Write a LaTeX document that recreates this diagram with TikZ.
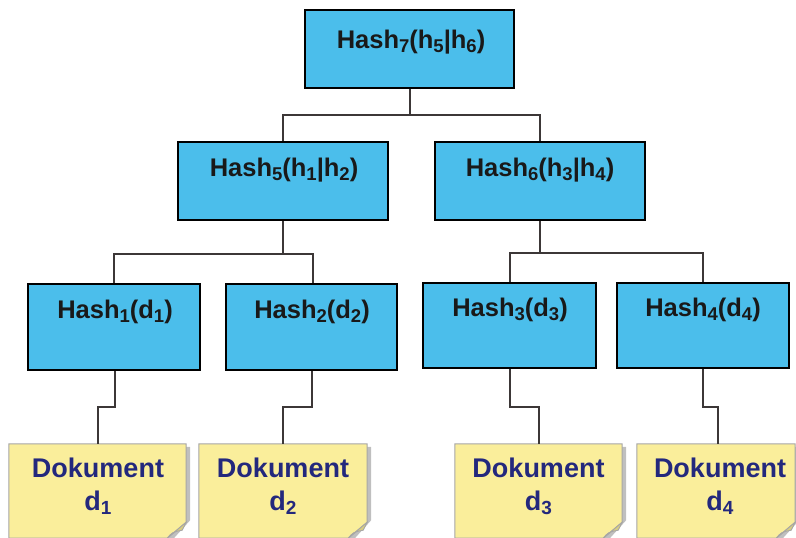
\documentclass[tikz,border=0pt]{standalone}
\usepackage{fontspec}
\setmainfont{Liberation Sans}
\usetikzlibrary{calc}
\definecolor{boxblue}{RGB}{75,190,235}
\definecolor{docyellow}{RGB}{250,238,155}
\definecolor{docfold}{RGB}{215,205,130}
\definecolor{navytext}{RGB}{35,40,125}
\definecolor{linegray}{RGB}{60,55,55}
\newcommand{\subsc}[1]{\raisebox{-0.3ex}{\fontsize{18.5}{18.5}\selectfont #1}}
\newcommand{\subsd}[1]{\raisebox{-0.3ex}{\fontsize{19}{19}\selectfont #1}}
\tikzset{
  hashbox/.style={draw=black, line width=2.6pt, fill=boxblue, inner sep=0pt},
  hashtext/.style={font=\fontsize{25.5}{26}\selectfont\bfseries, text=black!90, inner sep=0pt},
  docbox/.style={inner sep=0pt},
  doctext/.style={font=\fontsize{27}{33}\selectfont\bfseries, text=navytext, align=center, inner sep=0pt},
  conn/.style={draw=linegray, line width=2pt},
}
\begin{document}
\begin{tikzpicture}[x=1pt,y=-1pt]
\useasboundingbox (0,0) rectangle (796,538);
% hash boxes
\node[hashbox, minimum width=209pt, minimum height=78pt] (h7) at (409.5,49) {};
\node[hashbox, minimum width=210pt, minimum height=78pt] (h5) at (283,181) {};
\node[hashbox, minimum width=210pt, minimum height=78pt] (h6) at (540,181) {};
\node[hashbox, minimum width=172pt, minimum height=86pt] (h1) at (114,327) {};
\node[hashbox, minimum width=171pt, minimum height=86pt] (h2) at (311.5,327) {};
\node[hashbox, minimum width=173pt, minimum height=85pt] (h3) at (509.5,325.5) {};
\node[hashbox, minimum width=172pt, minimum height=85pt] (h4) at (703,325.5) {};
% hash texts
\node[hashtext] (t7) at (411,42) {Hash\subsc{7}(h\subsc{5}|h\subsc{6})};
\node[hashtext] (t5) at (284,170) {Hash\subsc{5}(h\subsc{1}|h\subsc{2})};
\node[hashtext] (t6) at (540,170) {Hash\subsc{6}(h\subsc{3}|h\subsc{4})};
\node[hashtext] (t1) at (115,312) {Hash\subsc{1}(d\subsc{1})};
\node[hashtext] (t2) at (312,312) {Hash\subsc{2}(d\subsc{2})};
\node[hashtext] (t3) at (510,310) {Hash\subsc{3}(d\subsc{3})};
\node[hashtext] (t4) at (703,310) {Hash\subsc{4}(d\subsc{4})};
% documents
\foreach \n/\l/\r in {d1/9/186, d2/199/367, d3/455/622, d4/637/795} {
  \node[docbox, minimum width=\r-\l, minimum height=94pt] (\n) at ({(\l+\r)/2},491) {};
  \fill[gray!50] ($(\n.north west)+(4,3)$) -- ($(\n.north east)+(4,3)$) -- ($(\n.south east)+(4,-18)$) -- ($(\n.south east)+(-15,3)$) -- ($(\n.south west)+(4,3)$) -- cycle;
  \filldraw[fill=docyellow, draw=gray!70, line width=1pt] (\n.north west) -- (\n.north east) -- ($(\n.south east)+(0,-16)$) -- ($(\n.south east)+(-19,0)$) -- (\n.south west) -- cycle;
  \filldraw[fill=docfold, draw=gray!70, line width=0.8pt] ($(\n.south east)+(0,-16)$) -- ($(\n.south east)+(-19,0)$) .. controls ($(\n.south east)+(-14,-6)$) .. ($(\n.south east)+(-4,-8)$) -- cycle;
}
\node[doctext] (x1) at (98,486) {Dokument\\d\subsd{1}};
\node[doctext] (x2) at (283,486) {Dokument\\d\subsd{2}};
\node[doctext] (x3) at (538.5,486) {Dokument\\d\subsd{3}};
\node[doctext] (x4) at (720,486) {Dokument\\d\subsd{4}};
% connectors
\draw[conn] (h7.south) -- ++(0,26) -| (h5.north);
\draw[conn] (h7.south) -- ++(0,26) -| (h6.north);
\draw[conn] (h5.south) -- ++(0,33) -| (h1.north);
\draw[conn] (h5.south) -- ++(0,33) -| ([xshift=1pt]h2.north);
\draw[conn] (h6.south) -- ++(0,32) -| (h3.north);
\draw[conn] (h6.south) -- ++(0,32) -| (h4.north);
\draw[conn] ([xshift=1pt]h1.south) -- ++(0,36) -| (d1.north);
\draw[conn] (h2.south) -- ++(0,36) -| (d2.north);
\draw[conn] (h3.south) -- ++(0,38) -| (d3.north);
\draw[conn] (h4.south) -- ++(0,38) -| ([xshift=2pt]d4.north);
\end{tikzpicture}
\end{document}
